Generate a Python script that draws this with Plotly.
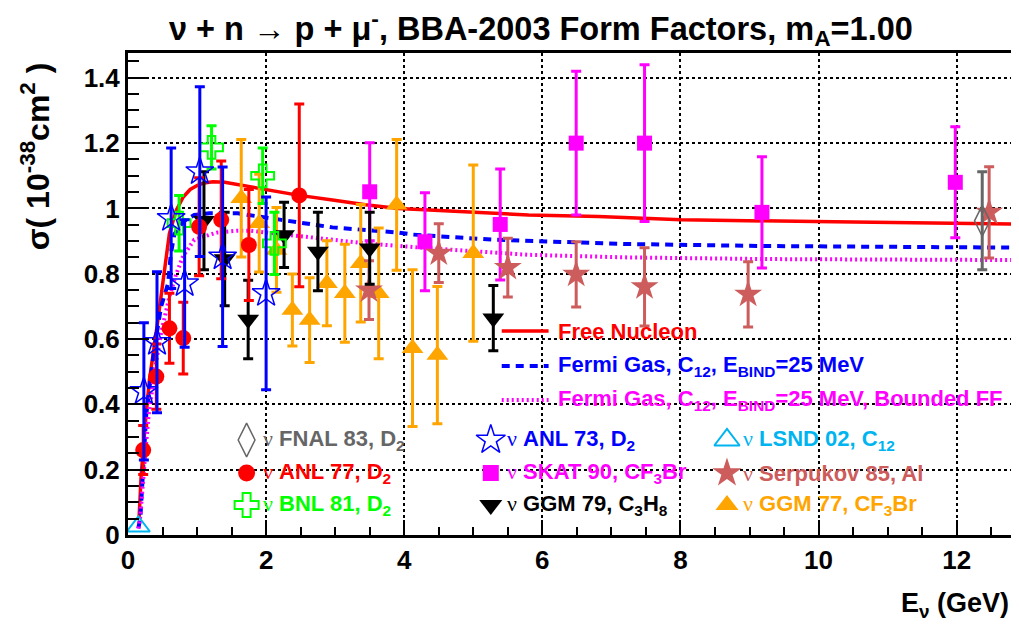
import plotly.graph_objects as go

# ---------------- data ----------------
anl77_x = [0.22, 0.41, 0.60, 0.80, 1.03, 1.35, 1.75, 2.48]
anl77_y = [0.26, 0.485, 0.633, 0.603, 0.944, 0.965, 0.888, 1.04]
anl77_e = [0.075, 0.10, 0.107, 0.11, 0.15, 0.18, 0.17, 0.28]

anl73_x = [0.23, 0.42, 0.625, 0.82, 1.04, 1.37, 2.0]
anl73_y = [0.44, 0.59, 0.97, 0.77, 1.113, 0.852, 0.74]
anl73_e = [0.21, 0.216, 0.215, 0.195, 0.26, 0.275, 0.295]

bnl81_x = [0.74, 1.21, 1.95, 2.12]
bnl81_y = [0.955, 1.187, 1.10, 0.893]
bnl81_e = [0.085, 0.066, 0.085, 0.095]

ggm79_x = [1.10, 1.40, 1.74, 2.26, 2.75, 3.50, 5.29]
ggm79_y = [0.962, 0.845, 0.66, 0.919, 0.868, 0.878, 0.664]
ggm79_e = [0.15, 0.143, 0.12, 0.10, 0.12, 0.11, 0.10]

ggm77_x = [1.64, 1.90, 2.15, 2.38, 2.63, 2.88, 3.14, 3.37, 3.63, 3.89, 4.12, 4.48, 5.00]
ggm77_y = [1.031, 0.955, 0.873, 0.689, 0.658, 0.771, 0.740, 0.832, 0.740, 1.011, 0.572, 0.551, 0.863]
ggm77_e = [0.18, 0.15, 0.13, 0.11, 0.13, 0.13, 0.15, 0.18, 0.20, 0.20, 0.24, 0.21, 0.27]

skat90_x = [3.50, 4.30, 5.39, 6.49, 7.48, 9.18, 11.98]
skat90_y = [1.051, 0.898, 0.951, 1.20, 1.20, 0.988, 1.08]
skat90_e = [0.15, 0.15, 0.17, 0.22, 0.24, 0.17, 0.17]

serp85_x = [3.49, 4.50, 5.50, 6.49, 7.48, 8.98, 12.47]
serp85_y = [0.75, 0.863, 0.819, 0.798, 0.76, 0.737, 0.988]
serp85_e = [0.09, 0.09, 0.09, 0.10, 0.12, 0.10, 0.14]

fnal83_x = [12.37]
fnal83_y = [0.962]
fnal83_e = [0.15]

lsnd02_x = [0.15]
lsnd02_y = [0.026]

free_x = [0.16, 0.19, 0.25, 0.31, 0.42, 0.51, 0.60, 0.70, 0.80, 0.90, 1.0, 1.1, 1.23,
          1.4, 1.62, 2.0, 2.48, 2.96, 3.44, 3.92, 4.84, 5.8, 6.81, 8.01, 9.94, 11.62, 12.8]
free_y = [0.05, 0.18, 0.34, 0.475, 0.638, 0.79, 0.924, 0.995, 1.035, 1.058, 1.07, 1.078, 1.082,
          1.08, 1.072, 1.057, 1.04, 1.026, 1.011, 1.0, 0.99, 0.98, 0.975, 0.965, 0.96, 0.955, 0.952]

fermi_x = [0.15, 0.18, 0.265, 0.385, 0.48, 0.58, 0.62, 0.67, 0.80, 0.96, 1.18, 1.59, 2.22,
           2.96, 3.92, 4.12, 5.32, 6.81, 7.24, 9.22, 12.8]
fermi_y = [0.02, 0.056, 0.373, 0.577, 0.70, 0.77, 0.86, 0.92, 0.96, 0.98, 0.985, 0.985, 0.965,
           0.942, 0.926, 0.92, 0.904, 0.893, 0.891, 0.885, 0.88]

bound_x = [0.15, 0.18, 0.25, 0.30, 0.40, 0.48, 0.60, 0.70, 0.80, 0.96, 1.28, 1.59, 1.76,
           2.48, 2.91, 3.44, 4.36, 5.8, 7.24, 9.22, 12.8]
bound_y = [0.02, 0.06, 0.25, 0.37, 0.52, 0.62, 0.73, 0.80, 0.855, 0.904, 0.926, 0.932, 0.932,
           0.914, 0.904, 0.893, 0.878, 0.858, 0.85, 0.845, 0.842]

y_ticks = [0, 0.2, 0.4, 0.6, 0.8, 1.0, 1.2, 1.4]
y_ticklabels = ["0", "0.2", "0.4", "0.6", "0.8", "1", "1.2", "1.4"]
x_ticks = [0, 2, 4, 6, 8, 10, 12]
x_ticklabels = ["0", "2", "4", "6", "8", "10", "12"]

# ---------------- styling ----------------
PAGE_OFF = 8                       # default body margin of the html page
W, H = 1019 - PAGE_OFF, 632 - 2 * PAGE_OFF
L, R, T, B = 128, 1017, 53, 535    # plot frame in window pixels
FONT = "Liberation Sans, Arial, sans-serif"
NU = '<span style="font-family:Liberation Serif;font-weight:normal">ν</span>'

C_RED = "#ff0000"
C_BLUE = "#0000ff"
C_GREEN = "#00ff00"
C_BLACK = "#000000"
C_ORANGE = "#ffa500"
C_MAG = "#ff00ff"
C_SERP = "#cd5c5c"
C_GRAY = "#666666"
C_LSND = "#00b4f0"


def px(x):
    return (x - L) / (R - L)


def py(y):
    return (B - y) / (B - T)


fig = go.Figure()

# theory curves
fig.add_trace(go.Scatter(x=free_x, y=free_y, mode="lines",
                         line=dict(color=C_RED, width=3.5), showlegend=False))
fig.add_trace(go.Scatter(x=fermi_x, y=fermi_y, mode="lines",
                         line=dict(color=C_BLUE, width=4, dash="8px,6px"), showlegend=False))
fig.add_trace(go.Scatter(x=bound_x, y=bound_y, mode="lines",
                         line=dict(color=C_MAG, width=4, dash="2px,3px"), showlegend=False))

datasets = [
    (ggm77_x, ggm77_y, ggm77_e, C_ORANGE, "triangle-up", 19, 0),
    (skat90_x, skat90_y, skat90_e, C_MAG, "square", 15, 0),
    (serp85_x, serp85_y, serp85_e, C_SERP, "star", 21, 0),
    (fnal83_x, fnal83_y, fnal83_e, C_GRAY, "diamond-tall-open", 22, 1.5),
    (ggm79_x, ggm79_y, ggm79_e, C_BLACK, "triangle-down", 19, 0),
    (bnl81_x, bnl81_y, bnl81_e, C_GREEN, "cross-open", 19, 2),
    (anl77_x, anl77_y, anl77_e, C_RED, "circle", 16, 0),
    (anl73_x, anl73_y, anl73_e, C_BLUE, "star-open", 21, 1.5),
]
for xs, ys, es, col, sym, sz, lw in datasets:
    fig.add_trace(go.Scatter(
        x=xs, y=ys, mode="markers",
        marker=dict(symbol=sym, size=sz, color=col, line=dict(color=col, width=lw)),
        error_y=dict(type="data", array=es, color=col, thickness=3, width=5),
        showlegend=False))

fig.add_trace(go.Scatter(x=lsnd02_x, y=lsnd02_y, mode="markers",
                         marker=dict(symbol="triangle-up-open", size=20, color=C_LSND,
                                     line=dict(color=C_LSND, width=2)),
                         showlegend=False))

# ---------------- legends (overlay axis in window pixel space) ----------------
leg_lines = [
    (331, C_RED, "solid", 3.5, "Free Nucleon"),
    (366, C_BLUE, "8px,6px", 4, "Fermi Gas, C<sub>12</sub>, E<sub>BIND</sub>=25 MeV"),
    (400, C_MAG, "2px,3px", 4, "Fermi Gas, C<sub>12</sub>, E<sub>BIND</sub>=25 MeV, Bounded FF"),
]
for yy, col, dash, wd, txt in leg_lines:
    fig.add_trace(go.Scatter(x=[503, 550], y=[yy, yy], mode="lines", xaxis="x2", yaxis="y2",
                             line=dict(color=col, width=wd, dash=dash), showlegend=False,
                             hoverinfo="skip"))

leg_marks = [
    (247, 440, "diamond-tall-open", 24, C_GRAY, 1.5, NU + " FNAL 83, D<sub>2</sub>"),
    (247, 473, "circle", 17, C_RED, 0, NU + " ANL 77, D<sub>2</sub>"),
    (247, 505, "cross-open", 20, C_GREEN, 2, NU + " BNL 81, D<sub>2</sub>"),
    (492, 440, "star-open", 22, C_BLUE, 1.5, NU + " ANL 73, D<sub>2</sub>"),
    (492, 473, "square", 16, C_MAG, 0, NU + " SKAT 90, CF<sub>3</sub>Br"),
    (492, 505, "triangle-down", 20, C_BLACK, 0, NU + " GGM 79, C<sub>3</sub>H<sub>8</sub>"),
    (729, 440, "triangle-up-open", 22, C_LSND, 2, NU + " LSND 02, C<sub>12</sub>"),
    (729, 473, "star", 22, C_SERP, 0, NU + " Serpukov 85, Al"),
    (729, 505, "triangle-up", 20, C_ORANGE, 0, NU + " GGM 77, CF<sub>3</sub>Br"),
]
for xx, yy, sym, sz, col, lw, txt in leg_marks:
    fig.add_trace(go.Scatter(x=[xx], y=[yy], mode="markers", xaxis="x2", yaxis="y2",
                             marker=dict(symbol=sym, size=sz, color=col,
                                         line=dict(color=col, width=lw)),
                             showlegend=False, hoverinfo="skip"))

annotations = []
for yy, col, dash, wd, txt in leg_lines:
    annotations.append(dict(x=px(557), y=py(yy), xref="paper", yref="paper", text=txt,
                            showarrow=False, xanchor="left", yanchor="middle",
                            font=dict(family=FONT, size=22, color=col, weight="bold")))
for xx, yy, sym, sz, col, lw, txt in leg_marks:
    annotations.append(dict(x=px(xx + 14), y=py(yy), xref="paper", yref="paper", text=txt,
                            showarrow=False, xanchor="left", yanchor="middle",
                            font=dict(family=FONT, size=22, color=col, weight="bold")))

# title
annotations.append(dict(x=px(542), y=py(28), xref="paper", yref="paper",
                        text="ν + n → p + μ<sup>-</sup>, BBA-2003 Form Factors, m<sub>A</sub>=1.00",
                        showarrow=False, xanchor="center", yanchor="middle",
                        font=dict(family=FONT, size=32.5, color="black", weight="bold")))
# y title
annotations.append(dict(x=px(35), y=py(60), xref="paper", yref="paper",
                        text="σ( 10<sup>-38</sup>cm<sup>2</sup> )", textangle=-90,
                        showarrow=False, xanchor="center", yanchor="top",
                        font=dict(family=FONT, size=32, color="black", weight="bold")))
# x title
annotations.append(dict(x=px(1014), y=py(605), xref="paper", yref="paper",
                        text="E<sub>ν</sub> (GeV)",
                        showarrow=False, xanchor="right", yanchor="middle",
                        font=dict(family=FONT, size=27, color="black", weight="bold")))

fig.update_layout(
    width=W, height=H,
    margin=dict(l=L - PAGE_OFF, r=W - (R - PAGE_OFF), t=T - PAGE_OFF,
                b=H - (B - PAGE_OFF), pad=0),
    plot_bgcolor="white", paper_bgcolor="white",
    showlegend=False,
    annotations=annotations,
    xaxis=dict(range=[0, 12.83], tickvals=x_ticks, ticktext=x_ticklabels,
               ticks="inside", ticklen=15, tickwidth=1.5, tickcolor="black",
               showline=True, linecolor="black", linewidth=3, mirror=True,
               showgrid=True, gridcolor="black", griddash="dot", gridwidth=1.5,
               zeroline=False,
               minor=dict(dtick=0.5, ticks="inside", ticklen=8, tickwidth=1.5,
                          tickcolor="black", showgrid=False),
               tickfont=dict(family=FONT, size=26, color="black", weight="bold")),
    yaxis=dict(range=[0, 1.476], tickvals=y_ticks, ticktext=y_ticklabels,
               ticks="inside", ticklen=20, tickwidth=1.5, tickcolor="black",
               showline=True, linecolor="black", linewidth=3, mirror=True,
               showgrid=True, gridcolor="black", griddash="dot", gridwidth=1.5,
               zeroline=False,
               minor=dict(dtick=0.05, ticks="inside", ticklen=11, tickwidth=1.5,
                          tickcolor="black", showgrid=False),
               tickfont=dict(family=FONT, size=26, color="black", weight="bold")),
    xaxis2=dict(range=[L, R], overlaying="x", visible=False, fixedrange=True),
    yaxis2=dict(range=[B, T], overlaying="y", visible=False, fixedrange=True),
)

fig.write_html("out.html")
